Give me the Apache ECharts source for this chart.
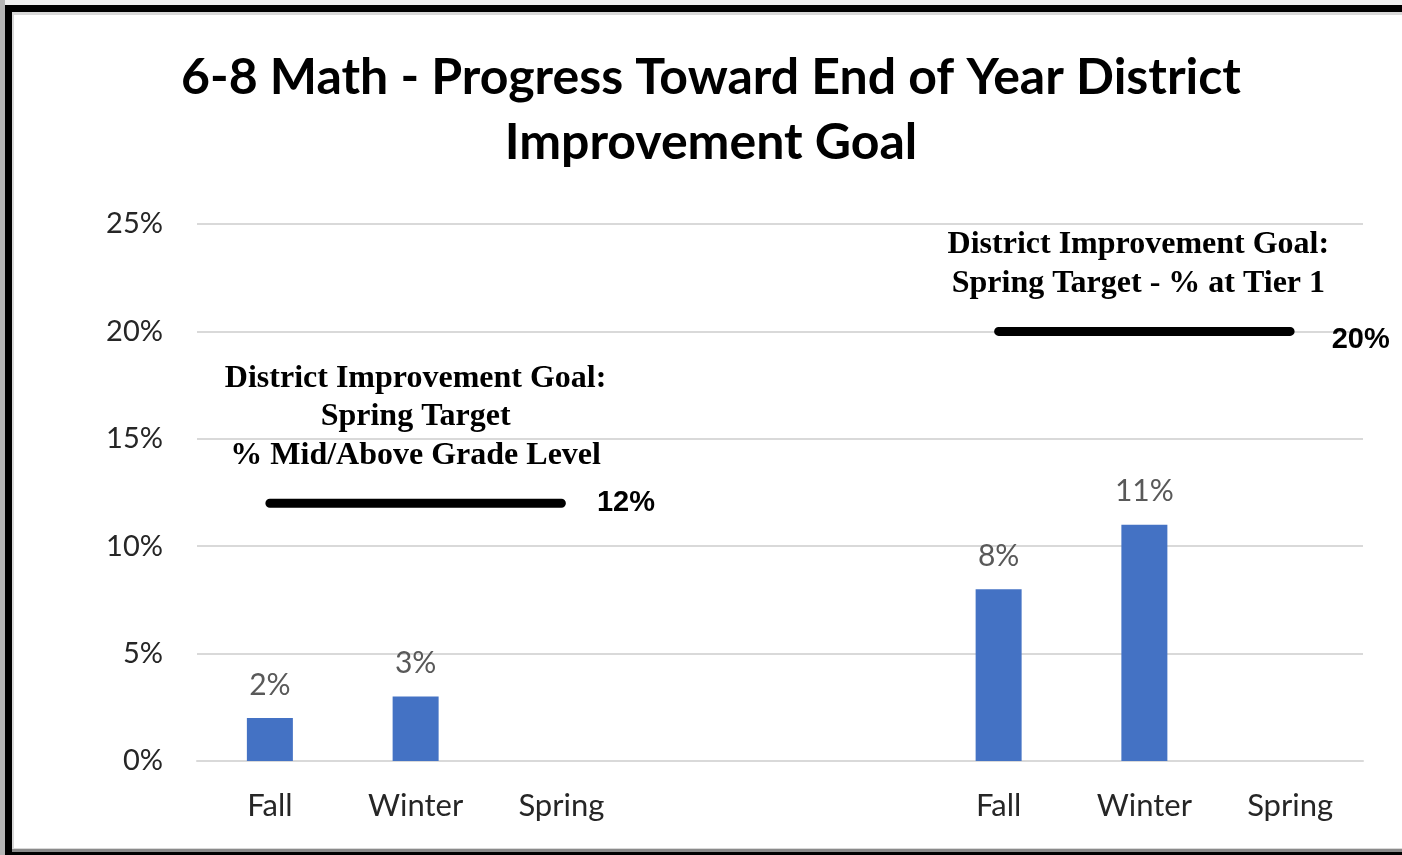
<!DOCTYPE html>
<html>
<head>
<meta charset="utf-8">
<script src="https://cdn.jsdelivr.net/npm/echarts@6/dist/echarts.min.js"></script>
<style>
html,body{margin:0;padding:0;background:#efefef;}
#c{width:1402px;height:855px;}
</style>
</head>
<body>
<div id="c"></div>
<script>
const titleLines = ['6-8 Math - Progress Toward End of Year District', 'Improvement Goal'];
const categories = ['Fall', 'Winter', 'Spring', '', '', 'Fall', 'Winter', 'Spring'];
const actualValues = [2, 3, null, null, null, 8, 11, null];
const goalMidAbove = [12, 12, 12, null, null, null, null, null];
const goalTier1 = [null, null, null, null, null, 20, 20, 20];
const goalMidAboveText = ['District Improvement Goal:', 'Spring Target', '% Mid/Above Grade Level'];
const goalTier1Text = ['District Improvement Goal:', 'Spring Target - % at Tier 1'];
const yTicks = { min: 0, max: 25, interval: 5 };

const sans = 'Lato, "Open Sans", sans-serif';
const serif = '"Liberation Serif", "DejaVu Serif", serif';

function goalData(arr, text, textOffset, lastDistance, lastOffset) {
  const idx = arr.map((v, i) => v == null ? -1 : i).filter(i => i >= 0);
  const mid = idx[Math.floor(idx.length / 2)];
  const last = idx[idx.length - 1];
  return arr.map((v, i) => {
    if (v == null) return null;
    const item = { value: v };
    if (i === mid) {
      item.label = {
        show: true, position: 'top', distance: 28, offset: textOffset,
        formatter: text.join('\n'),
        fontFamily: serif, fontWeight: 'bold', fontSize: 32, lineHeight: 38.5,
        color: '#000', align: 'center'
      };
    } else if (i === last) {
      item.label = {
        show: true, position: 'right', distance: lastDistance,
        formatter: v + '%', offset: lastOffset,
        fontFamily: '"Liberation Sans", Arial, sans-serif', fontWeight: 'bold',
        fontSize: 29, color: '#000'
      };
    }
    return item;
  });
}

const chart = echarts.init(document.getElementById('c'), null, { renderer: 'canvas' });
chart.setOption({
  animation: false,
  backgroundColor: 'transparent',
  graphic: [
    { type: 'rect', shape: { x: 0, y: 0, width: 1402, height: 855 }, style: { fill: '#efefef' }, z: -10 },
    { type: 'rect', shape: { x: 0, y: 0, width: 5, height: 855 }, style: { fill: '#b5b5b5' }, z: -9 },
    { type: 'rect', shape: { x: 5, y: 5, width: 1400, height: 850 }, style: { fill: '#000' }, z: -9 },
    { type: 'rect', shape: { x: 12, y: 12, width: 1395, height: 838 }, style: { fill: '#d8d8d8' }, z: -8 },
    { type: 'rect', shape: { x: 14, y: 15, width: 1395, height: 833 }, style: { fill: '#fff' }, z: -7 },
    { type: 'rect', shape: { x: 12, y: 849, width: 1395, height: 3 }, style: { fill: '#8a8a8a' }, z: -7 }
  ],
  title: {
    text: titleLines.join('\n'),
    left: 706, top: 40, textAlign: 'center',
    textStyle: { fontFamily: sans, fontWeight: 'bold', fontSize: 50, lineHeight: 65, color: '#000' }
  },
  grid: { left: 197, right: 39, top: 224, bottom: 94, containLabel: false },
  xAxis: {
    type: 'category', data: categories,
    axisLine: { show: true, lineStyle: { color: '#d9d9d9', width: 2 } },
    axisTick: { show: false },
    axisLabel: { interval: 0, margin: 29, fontFamily: sans, fontSize: 31, color: '#262626' },
    splitLine: { show: false }
  },
  yAxis: {
    type: 'value', min: yTicks.min, max: yTicks.max, interval: yTicks.interval,
    axisLine: { show: false }, axisTick: { show: false },
    axisLabel: { margin: 34, fontFamily: sans, fontSize: 29, color: '#262626', formatter: '{value}%' },
    splitLine: { lineStyle: { color: '#d9d9d9', width: 2 } }
  },
  series: [
    {
      type: 'bar', data: actualValues, barWidth: 46,
      itemStyle: { color: '#4472c4' },
      label: { show: true, position: 'top', distance: 18, formatter: p => p.value + '%',
        fontFamily: sans, fontSize: 30, color: '#595959' }
    },
    {
      type: 'line', data: goalData(goalMidAbove, goalMidAboveText, [0, 0], 35, [0, 0]),
      symbol: 'circle', symbolSize: 1, showSymbol: true, connectNulls: false,
      itemStyle: { color: '#000' },
      lineStyle: { color: '#000', width: 9, cap: 'round' }, z: 5
    },
    {
      type: 'line', data: goalData(goalTier1, goalTier1Text, [-6, 0], 41, [0, 9]),
      symbol: 'circle', symbolSize: 1, showSymbol: true, connectNulls: false,
      itemStyle: { color: '#000' },
      lineStyle: { color: '#000', width: 9, cap: 'round' }, z: 5
    }
  ]
});
</script>
</body>
</html>
